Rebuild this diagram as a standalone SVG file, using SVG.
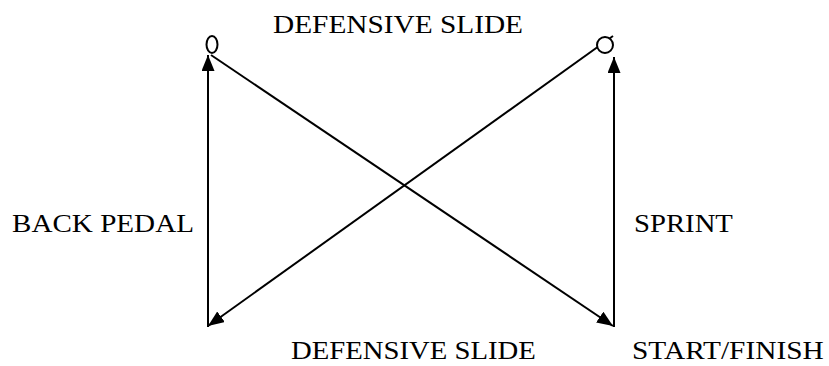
<svg xmlns="http://www.w3.org/2000/svg" width="829" height="366" viewBox="0 0 829 366">
<defs>
<marker id="ah" markerUnits="userSpaceOnUse" markerWidth="18" markerHeight="14" refX="16" refY="6.5" orient="auto">
<path d="M0,0 L16,6.5 L0,13 Z" fill="#000"/>
</marker>
<style>
.lbl{font-family:"Liberation Serif","Times New Roman",serif;font-size:26px;fill:#000}
.ln{stroke:#000;stroke-width:2;fill:none}
.nd{stroke:#000;stroke-width:2;fill:#fff}
</style>
</defs>
<rect width="829" height="366" fill="#fff"/>
<g id="connectors">
<line class="ln" x1="208" y1="327" x2="208" y2="55" marker-end="url(#ah)"/>
<line class="ln" x1="614" y1="327" x2="614" y2="57" marker-end="url(#ah)"/>
<line class="ln" x1="211" y1="55" x2="613" y2="326" marker-end="url(#ah)"/>
<line class="ln" x1="613" y1="36" x2="208" y2="326" marker-end="url(#ah)"/>
</g>
<g id="node-left">
<ellipse class="nd" cx="212" cy="44.5" rx="5.5" ry="8.5"/>
</g>
<g id="node-right">
<circle class="nd" cx="605" cy="45" r="8"/>
</g>
<g id="labels">
<text class="lbl" transform="translate(273,33) scale(1.128,1)">DEFENSIVE SLIDE</text>
<text class="lbl" transform="translate(12,232) scale(1.12,1)">BACK PEDAL</text>
<text class="lbl" transform="translate(634,232) scale(1.105,1)">SPRINT</text>
<text class="lbl" transform="translate(291,359) scale(1.105,1)">DEFENSIVE SLIDE</text>
<text class="lbl" transform="translate(632,359) scale(1.13,1)">START/FINISH</text>
</g>
</svg>
